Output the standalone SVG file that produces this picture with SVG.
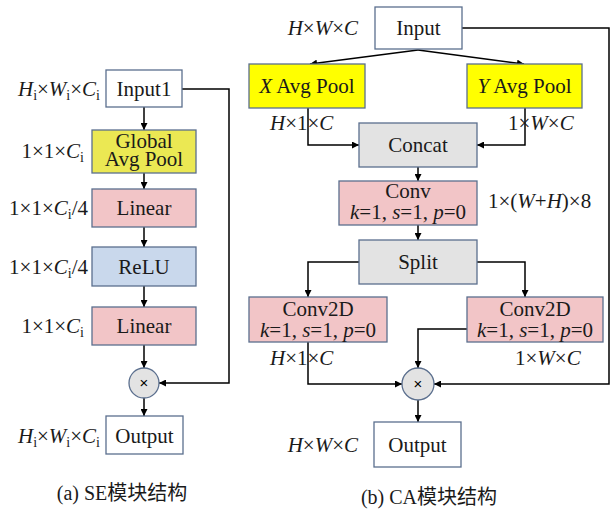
<svg xmlns="http://www.w3.org/2000/svg" width="611" height="514" viewBox="0 0 611 514" font-family="'Liberation Serif', 'Times New Roman', 'DejaVu Serif', serif">
<defs>
<style>
.box{stroke:#5b6f8e;stroke-width:1.3}
.w{fill:#ffffff}
.y1{fill:#ebe853}
.y2{fill:#ffff00}
.pk{fill:#f2c5c7}
.bl{fill:#c9d8ec}
.gr{fill:#e3e3e3}
.t{font-family:'Liberation Serif','Times New Roman','DejaVu Serif',serif;font-size:21px;fill:#1a1a1a}
.c{text-anchor:middle}
.e{text-anchor:end}
.i{font-style:italic}
.s{font-size:14px}
.cap{font-family:'Liberation Serif','Times New Roman','Noto Sans CJK SC',serif;font-size:20px;fill:#1a1a1a;text-anchor:middle}
.ln{fill:none;stroke:#000;stroke-width:1.5}
.x{font-family:'Liberation Sans',Arial,sans-serif;font-size:15px;fill:#000;text-anchor:middle}
</style>
<marker id="ah" viewBox="0 0 10 10" refX="10" refY="5" markerWidth="8" markerHeight="7" markerUnits="userSpaceOnUse" orient="auto">
<path d="M0,0 L10,5 L0,10 z" fill="#000"/>
</marker>
</defs>

<g id="connectors">
<path class="ln" d="M144,107 V130" marker-end="url(#ah)"/>
<path class="ln" d="M144,173 V189" marker-end="url(#ah)"/>
<path class="ln" d="M144,227 V247" marker-end="url(#ah)"/>
<path class="ln" d="M144,286 V307" marker-end="url(#ah)"/>
<path class="ln" d="M144,345 V368" marker-end="url(#ah)"/>
<path class="ln" d="M144,398 V416" marker-end="url(#ah)"/>
<path class="ln" d="M182,89 H229 V383 H159" marker-end="url(#ah)"/>
<path class="ln" d="M418,50 L310,64" marker-end="url(#ah)"/>
<path class="ln" d="M418,50 L524,64" marker-end="url(#ah)"/>
<path class="ln" d="M308,108 V145 H359" marker-end="url(#ah)"/>
<path class="ln" d="M525,108 V145 H477" marker-end="url(#ah)"/>
<path class="ln" d="M418,167 V181" marker-end="url(#ah)"/>
<path class="ln" d="M418,225 V240" marker-end="url(#ah)"/>
<path class="ln" d="M359,262 H308 V297" marker-end="url(#ah)"/>
<path class="ln" d="M477,262 H525 V297" marker-end="url(#ah)"/>
<path class="ln" d="M308,342 V384 H402" marker-end="url(#ah)"/>
<path class="ln" d="M467,329 H418 V368" marker-end="url(#ah)"/>
<path class="ln" d="M462,28 H609 V384 H434" marker-end="url(#ah)"/>
<path class="ln" d="M418,400 V422" marker-end="url(#ah)"/>
</g>

<g id="se-input1">
<rect class="box w" x="106" y="70" width="76" height="37"/>
<text class="t c" x="144" y="96">Input1</text>
<text class="t e" x="100" y="96"><tspan class="i">H</tspan><tspan class="s" dy="4">i</tspan><tspan dy="-4">×</tspan><tspan class="i">W</tspan><tspan class="s" dy="4">i</tspan><tspan dy="-4">×</tspan><tspan class="i">C</tspan><tspan class="s" dy="4">i</tspan></text>
</g>
<g id="se-gap">
<rect class="box y1" x="92" y="130" width="104" height="43"/>
<text class="t c" x="144" y="148">Global</text>
<text class="t c" x="144" y="166">Avg Pool</text>
<text class="t e" x="84" y="158">1×1×<tspan class="i">C</tspan><tspan class="s" dy="4">i</tspan></text>
</g>
<g id="se-linear1">
<rect class="box pk" x="92" y="189" width="104" height="38"/>
<text class="t c" x="144" y="215">Linear</text>
<text class="t e" x="88" y="215">1×1×<tspan class="i">C</tspan><tspan class="s" dy="4">i</tspan><tspan dy="-4">/4</tspan></text>
</g>
<g id="se-relu">
<rect class="box bl" x="92" y="247" width="104" height="39"/>
<text class="t c" x="144" y="274">ReLU</text>
<text class="t e" x="88" y="274">1×1×<tspan class="i">C</tspan><tspan class="s" dy="4">i</tspan><tspan dy="-4">/4</tspan></text>
</g>
<g id="se-linear2">
<rect class="box pk" x="92" y="307" width="104" height="38"/>
<text class="t c" x="144" y="333">Linear</text>
<text class="t e" x="84" y="333">1×1×<tspan class="i">C</tspan><tspan class="s" dy="4">i</tspan></text>
</g>
<g id="se-mul">
<circle cx="144" cy="383" r="15" class="box gr"/>
<text class="x" x="144" y="388">×</text>
</g>
<g id="se-output">
<rect class="box w" x="106" y="416" width="77" height="38"/>
<text class="t c" x="144.5" y="443">Output</text>
<text class="t e" x="100" y="443"><tspan class="i">H</tspan><tspan class="s" dy="4">i</tspan><tspan dy="-4">×</tspan><tspan class="i">W</tspan><tspan class="s" dy="4">i</tspan><tspan dy="-4">×</tspan><tspan class="i">C</tspan><tspan class="s" dy="4">i</tspan></text>
</g>
<g id="se-caption">
<text class="cap" x="122" y="500">(a) SE模块结构</text>
</g>

<g id="ca-input">
<rect class="box w" x="375" y="7" width="87" height="42"/>
<text class="t c" x="418.5" y="35">Input</text>
<text class="t e" x="358" y="35"><tspan class="i">H</tspan>×<tspan class="i">W</tspan>×<tspan class="i">C</tspan></text>
</g>
<g id="ca-xpool">
<rect class="box y2" x="249" y="64" width="116" height="44"/>
<text class="t c" x="307" y="93"><tspan class="i">X</tspan> Avg Pool</text>
<text class="t" x="270" y="130"><tspan class="i">H</tspan>×1×<tspan class="i">C</tspan></text>
</g>
<g id="ca-ypool">
<rect class="box y2" x="467" y="64" width="115" height="44"/>
<text class="t c" x="524.5" y="93"><tspan class="i">Y</tspan> Avg Pool</text>
<text class="t" x="508" y="130">1×<tspan class="i">W</tspan>×<tspan class="i">C</tspan></text>
</g>
<g id="ca-concat">
<rect class="box gr" x="359" y="123" width="118" height="44"/>
<text class="t c" x="418" y="152">Concat</text>
</g>
<g id="ca-conv">
<rect class="box pk" x="339" y="181" width="138" height="44"/>
<text class="t c" x="408" y="198">Conv</text>
<text class="t c" x="408" y="219"><tspan class="i">k</tspan>=1, <tspan class="i">s</tspan>=1, <tspan class="i">p</tspan>=0</text>
<text class="t" x="488" y="208">1×(<tspan class="i">W</tspan>+<tspan class="i">H</tspan>)×8</text>
</g>
<g id="ca-split">
<rect class="box gr" x="359" y="240" width="118" height="44"/>
<text class="t c" x="418" y="269">Split</text>
</g>
<g id="ca-conv2d-left">
<rect class="box pk" x="249" y="297" width="138" height="45"/>
<text class="t c" x="318" y="316">Conv2D</text>
<text class="t c" x="318" y="337"><tspan class="i">k</tspan>=1, <tspan class="i">s</tspan>=1, <tspan class="i">p</tspan>=0</text>
<text class="t" x="270" y="365"><tspan class="i">H</tspan>×1×<tspan class="i">C</tspan></text>
</g>
<g id="ca-conv2d-right">
<rect class="box pk" x="467" y="297" width="136" height="45"/>
<text class="t c" x="535" y="316">Conv2D</text>
<text class="t c" x="535" y="337"><tspan class="i">k</tspan>=1, <tspan class="i">s</tspan>=1, <tspan class="i">p</tspan>=0</text>
<text class="t" x="515" y="365">1×<tspan class="i">W</tspan>×<tspan class="i">C</tspan></text>
</g>
<g id="ca-mul">
<circle cx="418" cy="384" r="16" class="box gr"/>
<text class="x" x="418" y="389">×</text>
</g>
<g id="ca-output">
<rect class="box w" x="374" y="422" width="87" height="45"/>
<text class="t c" x="417.5" y="452">Output</text>
<text class="t e" x="358" y="452"><tspan class="i">H</tspan>×<tspan class="i">W</tspan>×<tspan class="i">C</tspan></text>
</g>
<g id="ca-caption">
<text class="cap" x="429" y="504">(b) CA模块结构</text>
</g>
</svg>
